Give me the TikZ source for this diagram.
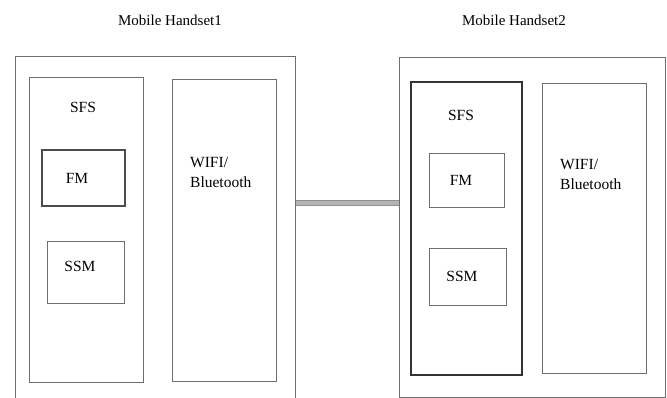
\documentclass[tikz,border=0pt]{standalone}
\usepackage{fontspec}
\setmainfont{Liberation Serif}
\usetikzlibrary{positioning}
\definecolor{boxgray}{HTML}{6E6E6E}
\definecolor{linkgray}{HTML}{B4B4B4}

\begin{document}
\begin{tikzpicture}[x=1pt,y=-1pt,
  box/.style={draw=boxgray,line width=1pt,inner sep=0pt},
  darkbox/.style={box,draw=black!80,line width=1.3pt},
  lbl/.style={font=\fontsize{15.5}{20}\selectfont,inner sep=0pt},
  ttl/.style={font=\fontsize{15}{18}\selectfont,inner sep=0pt},
  link/.style={draw=linkgray!80!black,double=linkgray,double distance=4.5pt,line width=0.8pt}
]
\useasboundingbox (0,0) rectangle (667,398);
\clip (0,0) rectangle (667,398);

% handset 1
\node[ttl] (t1) at (170,20) {Mobile Handset1};
\node[box,minimum width=280pt,minimum height=343pt] (hs1) at (155,228.5) {};
\node[box,minimum width=114pt,minimum height=304pt] (sfs1) at (86,230) {};
\node[darkbox,draw=black!70,minimum width=83pt,minimum height=56pt] (fm1) at (83.5,178) {};
\node[box,minimum width=77pt,minimum height=61pt] (ssm1) at (85.5,272.5) {};
\node[box,minimum width=104pt,minimum height=301pt] (wifi1) at (224,230.5) {};
\node[lbl] (sfs1l) at (83,107) {SFS};
\node[lbl] (fm1l) at (77,178) {FM};
\node[lbl] (ssm1l) at (80,266) {SSM};
\node[lbl,anchor=north west,align=left] (wifi1l) at (190,157) {WIFI/\\Bluetooth};

% handset 2
\node[ttl] (t2) at (514,20) {Mobile Handset2};
\node[box,minimum width=266pt,minimum height=339pt] (hs2) at (532,227.5) {};
\node[darkbox,minimum width=111pt,minimum height=293pt] (sfs2) at (466.5,228.5) {};
\node[box,minimum width=75pt,minimum height=54pt] (fm2) at (466.5,181) {};
\node[box,minimum width=77pt,minimum height=56pt] (ssm2) at (467.5,277) {};
\node[box,minimum width=104pt,minimum height=289pt] (wifi2) at (594,228.5) {};
\node[lbl] (sfs2l) at (461,115) {SFS};
\node[lbl] (fm2l) at (461,180) {FM};
\node[lbl] (ssm2l) at (462,276) {SSM};
\node[lbl,anchor=north west,align=left] (wifi2l) at (560,159) {WIFI/\\Bluetooth};

% link between handsets
\coordinate (j) at (0,203);
\draw[link] (hs1.east |- j) -- (hs2.west |- j);
\end{tikzpicture}
\end{document}
